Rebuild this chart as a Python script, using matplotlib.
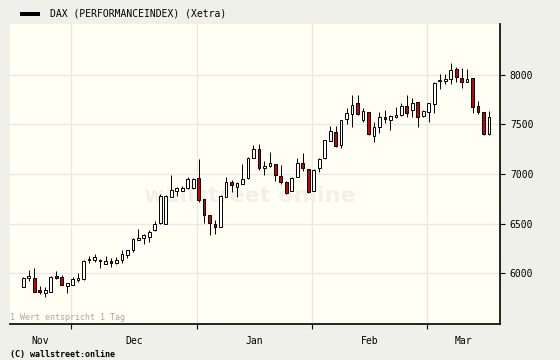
import matplotlib
matplotlib.use("Agg")
import matplotlib.pyplot as plt
from matplotlib.patches import Rectangle
import numpy as np

# DAX daily candles, Nov - Mar
opens = [5862, 5945, 5953, 5828, 5801, 5811, 5970, 5960, 5872, 5882,
         5925, 5937, 6129, 6131, 6135, 6094, 6118, 6106, 6128, 6182,
         6229, 6338, 6351, 6367, 6431, 6502, 6500, 6771, 6831, 6831,
         6856, 6856, 6957, 6745, 6583, 6495, 6468, 6771, 6919, 6872,
         6902, 6957, 7165, 7250, 7058, 7084, 7098, 6980, 6917, 6833,
         6973, 7116, 7048, 6833, 7058, 7159, 7335, 7424, 7288, 7553,
         7604, 7714, 7550, 7623, 7384, 7472, 7573, 7545, 7573, 7596,
         7687, 7646, 7724, 7586, 7629, 7705, 7935, 7943, 7957, 8058,
         7967, 7932, 7970, 7684, 7623, 7401]
highs = [5963, 6030, 6048, 5869, 5862, 5965, 6020, 5977, 5900, 5963,
         5997, 6131, 6172, 6192, 6140, 6172, 6152, 6159, 6232, 6235,
         6350, 6445, 6390, 6434, 6528, 6798, 6785, 6990, 6865, 6879,
         6967, 6958, 7155, 6750, 6590, 6535, 6785, 6967, 6940, 6915,
         7101, 7170, 7293, 7300, 7131, 7219, 7105, 7088, 6925, 6973,
         7157, 7209, 7055, 7048, 7160, 7345, 7482, 7488, 7550, 7664,
         7798, 7798, 7664, 7630, 7528, 7623, 7646, 7595, 7674, 7714,
         7798, 7765, 7730, 7645, 7720, 7932, 8010, 8010, 8118, 8076,
         8068, 8063, 7973, 7742, 7630, 7636]
lows = [5856, 5922, 5808, 5788, 5761, 5805, 5937, 5878, 5801, 5878,
        5912, 5930, 6098, 6111, 6048, 6090, 6061, 6091, 6098, 6152,
        6215, 6335, 6290, 6316, 6425, 6495, 6495, 6765, 6778, 6826,
        6850, 6850, 6714, 6502, 6384, 6391, 6460, 6765, 6823, 6771,
        6895, 6950, 7160, 7044, 6990, 7074, 6929, 6904, 6800, 6830,
        6968, 7035, 6806, 6830, 7020, 7155, 7330, 7276, 7258, 7505,
        7478, 7598, 7528, 7395, 7326, 7417, 7512, 7444, 7568, 7590,
        7573, 7573, 7478, 7580, 7528, 7619, 7856, 7904, 7909, 7932,
        7866, 7925, 7613, 7606, 7395, 7395]
closes = [5953, 5970, 5811, 5811, 5828, 5960, 5950, 5882, 5896, 5943,
          5950, 6121, 6145, 6162, 6118, 6121, 6098, 6135, 6189, 6229,
          6344, 6352, 6384, 6417, 6495, 6778, 6775, 6838, 6859, 6859,
          6950, 6950, 6738, 6586, 6502, 6468, 6778, 6919, 6886, 6906,
          6947, 7165, 7250, 7061, 7084, 7108, 6990, 6922, 6805, 6955,
          7116, 7058, 6821, 7040, 7154, 7340, 7431, 7286, 7545, 7613,
          7697, 7604, 7633, 7404, 7478, 7573, 7556, 7586, 7596, 7687,
          7619, 7720, 7573, 7639, 7714, 7924, 7950, 7957, 8050, 7977,
          7932, 7957, 7680, 7629, 7401, 7573]

months = ["Nov", "Dec", "Jan", "Feb", "Mar"]
month_start = [9, 32, 53, 74]   # index of first candle in Dec, Jan, Feb, Mar
yticks = [6000, 6500, 7000, 7500, 8000]

bg_out = "#f0f0ea"
bg_in = "#fffff4"
red = "#cc0000"
mono = "DejaVu Sans Mono"

fig = plt.figure(figsize=(5.6, 3.6), dpi=100, facecolor=bg_out)
ax = fig.add_axes([10/560, 36/360, 490/560, 300/360])
ax.set_facecolor(bg_in)

x = np.arange(len(opens))
o = np.array(opens); h = np.array(highs); l = np.array(lows); c = np.array(closes)
up = c >= o

xmin, xmax = -2.43, 87.0
ax.set_xlim(xmin, xmax)
ax.set_ylim(5485, 8515)

# grid
bounds = [m - 0.3 for m in month_start]
for b in bounds:
    ax.axvline(b, color="#e8e8e8", lw=1, zorder=0)
for yv in yticks:
    ax.axhline(yv, color="#e8e8e8", lw=1, zorder=0)

# watermark
ax.text(0.49, 0.427, "wallstreet online", transform=ax.transAxes, ha="center", va="center",
        fontsize=16, fontweight="bold", color="#f1f1ea", zorder=0.5)

ax.vlines(x, l, h, color="black", lw=0.7, zorder=2)
ax.bar(x, np.abs(c - o), bottom=np.minimum(o, c), width=0.5,
       color=np.where(up, "white", red), edgecolor="black", linewidth=0.7, zorder=3)

# spines
for s in ["left", "top"]:
    ax.spines[s].set_visible(False)
ax.spines["bottom"].set_linewidth(1.2)
ax.spines["right"].set_linewidth(1.2)

ax.yaxis.tick_right()
ax.set_yticks(yticks)
ax.set_yticklabels([str(v) for v in yticks], fontfamily=mono, fontsize=7)
ax.tick_params(axis="y", length=3.6, width=0.8, pad=3.5)

ax.set_xticks(bounds)
ax.set_xticklabels([])
ax.tick_params(axis="x", which="major", length=3.6, width=0.8)
edges = [xmin] + bounds + [xmax]
centers = [(edges[i] + edges[i + 1]) / 2 for i in range(len(months))]
ax.set_xticks(centers, minor=True)
ax.set_xticklabels(months, minor=True, fontfamily=mono, fontsize=7)
ax.tick_params(axis="x", which="minor", length=0, pad=8.5)

# legend / title
fig.patches.append(Rectangle((20/560, 1 - 16/360), 20/560, 4/360, transform=fig.transFigure,
                             facecolor="black", edgecolor="none"))
fig.text(50/560, 1 - 14/360, "DAX (PERFORMANCEINDEX) (Xetra)", fontfamily=mono, fontsize=7,
         va="center", ha="left")

fig.text(10/560, 1 - 318/360, "1 Wert entspricht 1 Tag", fontfamily=mono, fontsize=6,
         color="#a8a8a8", va="center", ha="left")
fig.text(10/560, 1 - 354/360, "(C) wallstreet:online", fontfamily=mono, fontsize=6,
         fontweight="bold", va="center", ha="left")

fig.savefig("out.png", dpi=100, facecolor=bg_out)
